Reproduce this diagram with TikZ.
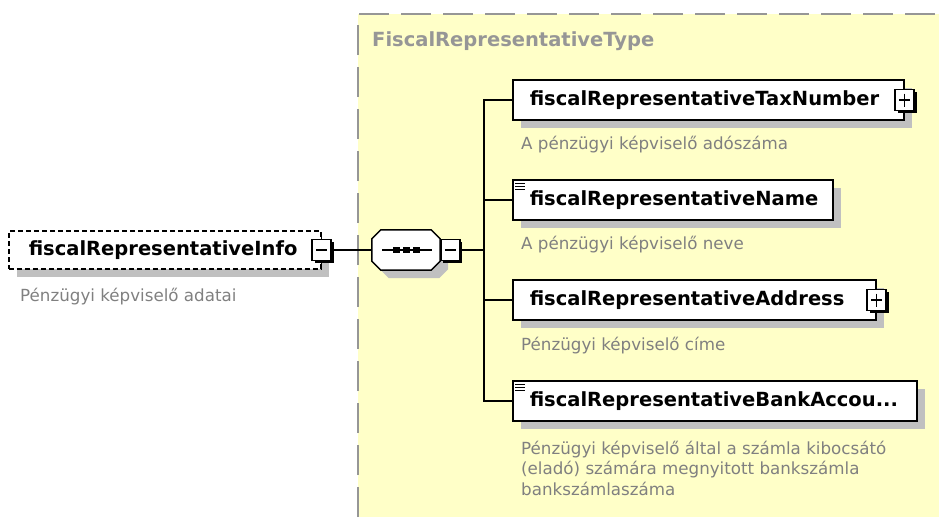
\documentclass[tikz,border=0pt]{standalone}
\usepackage{fontspec}
\setmainfont{DejaVu Sans}
\usetikzlibrary{shapes,arrows,shadows}
\definecolor{typeyellow}{RGB}{255,255,200}
\definecolor{typegray}{RGB}{150,150,150}
\definecolor{docgray}{RGB}{128,128,128}
\definecolor{shadowgray}{RGB}{192,192,192}
\hyphenpenalty=10000

\begin{document}
\begin{tikzpicture}[x=1pt,y=-1pt,
	conn/.style={draw=black, line width=1.5pt},
	grayshadow/.style={drop shadow={shadow xshift=8pt, shadow yshift=-8pt, fill=shadowgray, opacity=1}},
	elem/.style={draw=black, line width=1.5pt, fill=white, anchor=west, minimum height=40pt, inner xsep=17pt, inner ysep=0pt, align=left, font=\bfseries\fontsize{19.5}{22}\selectfont, grayshadow},
	rootelem/.style={elem, dash pattern=on 5pt off 3pt, inner xsep=20pt, minimum height=38pt},
	doc/.style={anchor=west, align=left, text=docgray, inner sep=0pt, font=\fontsize{16.7}{20.5}\selectfont},
	expbox/.style={draw=black, line width=1.5pt, fill=white, minimum width=19pt, minimum height=21pt, inner sep=0pt, drop shadow={shadow xshift=2.5pt, shadow yshift=-2.5pt, fill=black, opacity=1}},
	minusbox/.style={expbox, path picture={\draw[line width=1.2pt] ([xshift=4pt]path picture bounding box.west) -- ([xshift=-4pt]path picture bounding box.east);}},
	plusbox/.style={expbox, path picture={\draw[line width=1.2pt] ([xshift=4pt]path picture bounding box.west) -- ([xshift=-4pt]path picture bounding box.east) ([yshift=-4pt]path picture bounding box.north) -- ([yshift=4pt]path picture bounding box.south);}}]
	\useasboundingbox (0,0) rectangle (939,517);
	\fill[typeyellow] (358,14) rectangle (939,517);
	\draw[typegray, line width=2pt, dash pattern=on 30pt off 12pt] (358,517) -- (358,14) -- (939,14);
	\node[anchor=west, inner sep=0pt, text=typegray, font=\bfseries\fontsize{19.5}{22}\selectfont] (typetitle) at (372,41) {FiscalRepresentativeType};

	\node[rootelem, text width=272pt] (info) at (8,250) {fiscalRepresentativeInfo};
	\node[minusbox] (infominus) at (info.east) {};
	\draw[line width=1.5pt] (infominus.north) -- ++(0,-4) (infominus.south) -- ++(0,4);
	\node[doc] (infodoc) at (20,297) {Pénzügyi képviselő adatai};

	\node[inner sep=0pt, minimum width=68pt, minimum height=40pt] (seq) at (406,250) {};
	\filldraw[fill=white, draw=black, line width=1.5pt, grayshadow] ([xshift=9pt]seq.north west) -- ([xshift=-9pt]seq.north east) -- ([yshift=-9pt]seq.north east) -- ([yshift=9pt]seq.south east) -- ([xshift=-9pt]seq.south east) -- ([xshift=9pt]seq.south west) -- ([yshift=9pt]seq.south west) -- ([yshift=-9pt]seq.north west) -- cycle;
	\draw[line width=1.2pt] ([xshift=-24pt]seq.center) -- ([xshift=26pt]seq.center);
	\foreach \dx in {-9.5,0.5,10.5}
		\fill ([xshift=\dx pt]seq.center) +(-3.5,-3) rectangle +(3.5,3);
	\node[minusbox, anchor=west] (seqminus) at (seq.east) {};

	\node[elem, text width=357pt] (tax) at (512,100) {fiscalRepresentativeTaxNumber};
	\node[plusbox] (taxplus) at (tax.east) {};
	\node[doc] (taxdoc) at (521,145) {A pénzügyi képviselő adószáma};

	\node[elem, text width=286pt] (name) at (512,200) {fiscalRepresentativeName};
	\foreach \dy in {4,7,10}
		\draw[line width=1.2pt] ([xshift=3pt,yshift=-\dy pt]name.north west) -- ++(10,0);
	\node[doc] (namedoc) at (521,245) {A pénzügyi képviselő neve};

	\node[elem, text width=329pt] (addr) at (512,300) {fiscalRepresentativeAddress};
	\node[plusbox] (addrplus) at (addr.east) {};
	\node[doc] (addrdoc) at (521,346) {Pénzügyi képviselő címe};

	\node[elem, text width=370pt] (bank) at (512,401) {fiscalRepresentativeBankAccou...};
	\foreach \dy in {4,7,10}
		\draw[line width=1.2pt] ([xshift=3pt,yshift=-\dy pt]bank.north west) -- ++(10,0);
	\node[doc] (bankdoc) at (521,468) {Pénzügyi képviselő által a számla kibocsátó\\(eladó) számára megnyitott bankszámla\\bankszámlaszáma};

	\coordinate (trunk) at (484,250);
	\draw[conn] (infominus) -- (seq);
	\draw[conn] (seqminus) -- (trunk);
	\draw[conn] (tax.west) -| (trunk) |- (bank.west);
	\draw[conn] (name.west) -- (name.west -| trunk);
	\draw[conn] (addr.west) -- (addr.west -| trunk);
\end{tikzpicture}
\end{document}
